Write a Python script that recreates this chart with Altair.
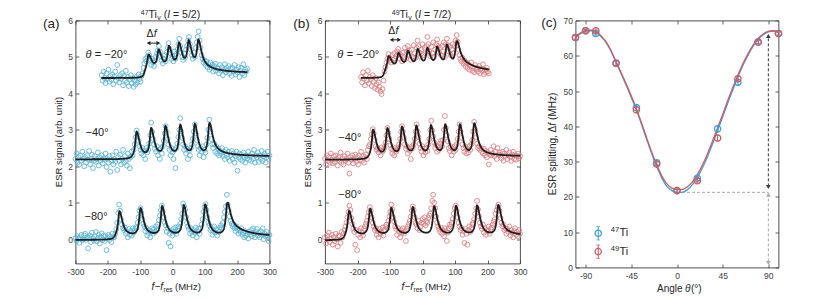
import numpy as np
import pandas as pd
import altair as alt

FONT = "Liberation Sans"
INK = "#262626"
AXC = "#3c3c3c"
LAB = "#404040"
BLUE_PT = "#58b3d7"
RED_PT = "#db7c81"
BLUE_LN = "#3d9fd4"
RED_LN = "#cf5b61"
FITC = "#1e1e1e"
STEP = 3.0  # MHz between successive sweep points

# ---------------- (a) 47Ti : ESR signal, one value every 3 MHz from the start frequency
a20_start = -219
a20_sig = [
    4.50, 4.35, 4.60, 4.42, 4.28, 4.55, 4.40, 4.65, 4.32, 4.48,
    4.38, 4.52, 4.25, 4.45, 4.60, 4.35, 4.78, 4.42, 4.30, 4.50,
    4.40, 4.55, 4.22, 4.48, 4.35, 4.62, 4.30, 4.45, 4.20, 4.38,
    4.50, 4.28, 4.42, 4.18, 4.35, 4.25, 4.45, 4.30, 4.52, 4.40,
    4.32, 4.48, 4.55, 4.70, 4.82, 4.95, 4.88, 5.00, 5.12, 5.05,
    4.92, 4.78, 4.95, 4.85, 4.75, 4.90, 5.00, 5.08, 5.18, 5.30,
    5.15, 5.02, 4.90, 4.82, 4.95, 5.05, 4.88, 5.12, 5.25, 5.38,
    5.22, 5.10, 4.95, 5.02, 4.88, 5.15, 4.95, 5.08, 5.20, 5.35,
    5.50, 5.30, 5.12, 5.00, 4.92, 5.10, 4.98, 5.20, 5.30, 5.45,
    5.55, 5.35, 5.20, 5.05, 4.95, 5.12, 5.00, 5.25, 5.40, 5.55,
    5.70, 5.45, 5.25, 5.05, 4.95, 4.85, 4.90, 4.78, 4.88, 4.72,
    4.80, 4.65, 4.85, 4.70, 4.78, 4.60, 4.75, 4.82, 4.62, 4.70,
    4.68, 4.55, 4.78, 4.62, 4.72, 4.50, 4.65, 4.80, 4.58, 4.70,
    4.62, 4.75, 4.55, 4.68, 4.48, 4.70, 4.60, 4.78, 4.52, 4.65,
    4.58, 4.72, 4.45, 4.62, 4.70, 4.55, 4.80, 4.50, 4.65, 4.60,
    4.68]
a40_start = -300
a40_sig = [
    2.20, 2.35, 2.10, 2.25, 2.05, 2.30, 2.15, 2.40, 2.20, 2.00,
    2.25, 2.10, 2.30, 2.18, 2.42, 2.05, 2.20, 2.32, 1.95, 2.15,
    2.28, 2.12, 2.20, 2.38, 2.02, 2.25, 2.15, 2.30, 2.08, 2.22,
    2.18, 2.35, 1.98, 2.20, 2.10, 2.28, 1.85, 2.15, 2.30, 2.05,
    2.20, 2.12, 2.40, 1.90, 2.25, 2.15, 2.32, 2.05, 2.20, 2.45,
    2.10, 2.28, 2.15, 2.02, 2.35, 2.20, 1.95, 2.25, 2.40, 2.30,
    2.45, 2.60, 2.80, 2.98, 2.85, 2.70, 2.55, 2.45, 2.35, 2.50,
    2.30, 2.42, 2.20, 2.50, 2.38, 2.45, 2.62, 2.85, 3.20, 2.95,
    2.75, 2.60, 2.48, 2.40, 2.55, 2.30, 2.45, 2.20, 2.50, 2.35,
    2.55, 2.70, 2.90, 3.10, 2.95, 2.75, 2.60, 2.45, 2.30, 2.50,
    2.38, 2.20, 2.45, 1.95, 2.50, 2.62, 2.80, 3.00, 3.32, 2.95,
    2.78, 2.60, 2.45, 2.55, 2.35, 2.48, 2.20, 2.42, 2.30, 2.50,
    2.60, 2.75, 2.95, 3.15, 2.90, 2.72, 2.55, 2.45, 2.30, 2.50,
    2.40, 2.55, 2.25, 2.45, 2.38, 2.60, 2.78, 3.00, 3.28, 2.95,
    2.75, 2.60, 2.50, 2.62, 2.40, 2.55, 2.35, 2.48, 2.30, 2.42,
    2.35, 2.50, 2.28, 2.40, 2.20, 2.45, 2.32, 2.25, 2.40, 2.15,
    2.30, 2.42, 2.20, 2.35, 2.10, 2.28, 2.40, 1.88, 2.25, 2.35,
    2.20, 2.32, 2.15, 2.38, 2.25, 2.10, 2.30, 2.22, 2.40, 2.18,
    2.28, 2.15, 2.35, 2.20, 2.45, 2.10, 2.30, 2.25, 2.38, 2.12,
    2.30, 2.20, 2.42, 2.15, 2.28, 2.35, 2.10, 2.25, 2.40, 2.20,
    2.30]
a80_start = -300
a80_sig = [
    0.03, -0.05, 0.08, 0.02, -0.10, 0.05, 0.12, -0.03, 0.00, 0.10,
    0.15, -0.02, 0.06, -0.25, 0.04, 0.10, -0.08, 0.18, 0.02, -0.04,
    0.08, 0.20, -0.06, 0.03, 0.12, -0.12, 0.05, 0.16, -0.02, 0.09,
    -0.05, 0.10, -0.30, 0.04, 0.12, -0.02, 0.07, -0.08, 0.15, 0.05,
    0.05, 0.15, 0.28, 0.45, 0.72, 0.95, 0.78, 0.55, 0.40, 0.30,
    0.25, 0.32, 0.15, 0.20, 0.05, 0.28, 0.12, 0.22, 0.10, 0.30,
    0.18, 0.25, 0.32, 0.30, 0.45, 0.60, 0.78, 0.85, 0.72, 0.55,
    0.42, 0.35, 0.22, 0.30, 0.10, 0.18, 0.25, 0.05, 0.20, 0.30,
    0.15, 0.28, 0.20, 0.35, 0.25, 0.40, 0.52, 0.65, 0.80, 0.92,
    0.75, 0.60, 0.45, 0.38, 0.20, 0.30, -0.10, 0.15, -0.20, 0.22,
    0.10, 0.28, 0.20, 0.32, 0.15, 0.25, 0.35, 0.30, 0.42, 0.55,
    0.70, 0.98, 0.90, 0.82, 0.60, 0.45, 0.35, 0.28, 0.15, 0.30,
    0.20, 0.10, 0.25, 0.18, 0.32, 0.05, 0.20, 0.28, 0.15, 0.30,
    0.40, 0.55, 0.75, 0.88, 0.96, 0.80, 0.60, 0.45, 0.38, 0.25,
    0.30, 0.12, 0.22, 0.35, 0.18, 0.28, 0.10, 0.25, 0.20, 0.32,
    0.38, 0.30, 0.45, 0.60, 0.75, 0.90, 1.22, 0.95, 0.78, 0.62,
    0.50, 0.42, 0.35, 0.40, 0.30, 0.22, 0.35, 0.28, 0.15, 0.25,
    0.20, 0.30, 0.12, 0.18, 0.05, 0.22, 0.10, 0.15, 0.02, 0.20,
    0.12, 0.25, 0.08, 0.30, 0.15, 0.05, 0.20, 0.28, 0.10, 0.18,
    0.05, 0.22, 0.12, 0.30, 0.00, 0.15, 0.08, 0.20, 0.10, -0.05,
    0.12]

# ---------------- (b) 49Ti
b20_start = -189
b20_sig = [
    4.45, 4.30, 4.58, 4.40, 4.22, 4.50, 4.35, 4.62, 4.28, 4.45,
    4.38, 4.20, 4.50, 4.32, 4.15, 4.42, 4.25, 4.10, 4.30, 4.18,
    4.05, 3.98, 4.12, 4.35, 4.60, 4.72, 4.85, 4.95, 5.08, 4.98,
    4.90, 4.85, 5.05, 4.92, 5.10, 4.95, 5.02, 5.15, 5.22, 5.10,
    4.95, 5.05, 4.88, 5.12, 5.00, 5.25, 4.95, 5.15, 5.30, 5.18,
    5.05, 4.92, 5.20, 5.00, 5.32, 5.10, 4.98, 5.25, 5.45, 5.30,
    5.12, 5.00, 5.20, 5.35, 5.05, 5.25, 5.10, 5.30, 5.55, 5.35,
    5.15, 5.02, 5.28, 5.10, 5.40, 5.00, 5.20, 5.35, 5.48, 5.30,
    5.12, 5.25, 5.05, 5.30, 5.15, 5.40, 5.00, 5.35, 5.50, 5.32,
    5.15, 5.28, 5.05, 5.20, 5.35, 5.10, 5.30, 5.45, 5.60, 5.42,
    5.20, 5.05, 4.95, 4.88, 4.98, 4.82, 4.90, 4.75, 4.85, 4.70,
    4.80, 4.65, 4.75, 4.85, 4.62, 4.72, 4.58, 4.78, 4.65, 4.70,
    4.60, 4.75, 4.55, 4.68, 4.62, 4.80, 4.52, 4.65, 4.58, 4.70,
    4.60, 4.55]
b40_start = -300
b40_sig = [
    2.20, 2.05, 2.30, 2.15, 2.25, 2.10, 2.35, 2.18, 2.08, 2.28,
    2.12, 2.30, 2.20, 2.02, 2.25, 2.15, 2.38, 2.10, 2.22, 2.05,
    2.28, 2.15, 2.20, 2.35, 2.10, 1.80, 2.25, 2.18, 2.30, 2.08,
    2.20, 2.32, 2.12, 2.25, 2.05, 2.30, 2.18, 2.40, 2.15, 2.28,
    2.10, 2.25, 2.32, 2.20, 2.45, 2.55, 2.60, 2.75, 2.88, 3.02,
    2.90, 2.72, 2.55, 2.45, 2.50, 2.38, 2.45, 2.30, 2.52, 2.40,
    2.45, 2.52, 2.65, 2.85, 3.05, 2.92, 2.75, 2.58, 2.48, 2.35,
    2.45, 2.30, 2.50, 2.40, 2.45, 2.52, 2.60, 2.75, 2.95, 3.10,
    2.95, 2.78, 2.60, 2.48, 2.55, 2.35, 2.50, 2.42, 2.20, 2.55,
    2.50, 2.60, 2.75, 2.95, 3.15, 2.95, 2.80, 2.62, 2.50, 2.40,
    2.55, 2.30, 2.48, 2.38, 2.50, 2.42, 2.60, 2.75, 3.00, 3.25,
    2.98, 2.82, 2.65, 2.50, 2.58, 2.40, 2.55, 2.45, 2.62, 2.70,
    2.55, 2.72, 3.00, 3.38, 3.05, 2.85, 2.68, 2.50, 2.42, 2.55,
    2.30, 2.48, 2.40, 2.55, 2.45, 2.60, 2.75, 2.95, 3.15, 2.95,
    2.78, 2.60, 2.50, 2.40, 2.55, 2.35, 2.48, 2.38, 2.55, 2.45,
    2.60, 2.72, 2.95, 3.22, 3.00, 2.80, 2.62, 2.50, 2.55, 2.45,
    2.50, 2.40, 2.35, 2.48, 2.30, 2.42, 2.25, 2.38, 2.05, 2.32,
    2.45, 2.30, 2.35, 2.55, 2.28, 2.40, 2.20, 2.50, 2.32, 2.38,
    2.30, 2.22, 2.40, 2.15, 2.35, 2.28, 2.45, 2.20, 2.30, 2.38,
    2.25, 2.15, 2.32, 2.40, 2.20, 2.30, 2.18, 2.28, 2.35, 2.22,
    2.28]
b80_start = -300
b80_sig = [
    0.05, -0.12, 0.10, -0.02, 0.18, -0.08, 0.02, 0.12, -0.15, 0.06,
    -0.05, 0.15, 0.00, -0.20, 0.10, 0.08, -0.10, 0.20, 0.05, 0.15,
    0.25, 0.35, 0.45, 0.60, 0.75, 0.92, 0.80, 0.58, 0.42, 0.30,
    0.20, -0.15, 0.25, -0.30, 0.12, 0.22, 0.05, 0.30, 0.18, 0.10,
    0.28, 0.35, 0.42, 0.50, 0.62, 0.75, 0.88, 0.78, 0.60, 0.45,
    0.35, 0.25, 0.30, 0.12, 0.22, 0.05, 0.28, 0.15, 0.20, 0.32,
    0.10, 0.25, 0.35, 0.40, 0.30, 0.50, 0.62, 0.75, 0.95, 0.82,
    0.60, 0.48, 0.35, 0.28, 0.12, 0.30, 0.20, 0.05, 0.25, 0.18,
    0.30, 0.15, 0.22, -0.05, 0.28, 0.35, 0.42, 0.50, 0.62, 0.78,
    0.90, 0.80, 0.60, 0.45, 0.40, 0.30, 0.50, 0.25, 0.35, 0.45,
    0.55, 0.42, 0.60, 0.38, 0.50, 0.45, 0.58, 0.65, 0.70, 0.85,
    1.05, 1.22, 1.00, 0.85, 0.62, 0.45, 0.35, 0.28, 0.20, 0.32,
    0.15, 0.25, 0.08, 0.30, 0.22, -0.05, 0.18, 0.30, 0.40, 0.35,
    0.45, 0.55, 0.70, 0.85, 0.92, 0.78, 0.60, 0.45, 0.35, 0.25,
    0.30, 0.12, 0.22, -0.10, 0.28, 0.15, -0.15, 0.25, 0.35, 0.20,
    0.30, 0.40, 0.45, 0.55, 0.70, 0.85, 1.05, 0.82, 0.62, 0.45,
    0.35, 0.28, 0.40, 0.18, 0.30, 0.12, 0.25, 0.22, 0.35, 0.15,
    0.28, 0.32, 0.40, 0.48, 0.55, 0.70, 0.80, 0.88, 0.95, 0.78,
    0.58, 0.45, 0.35, 0.40, 0.25, 0.30, 0.15, 0.28, 0.20, 0.35,
    0.10, 0.25, 0.18, 0.05, 0.22, 0.30, 0.12, 0.20, 0.08, 0.25,
    0.15]

# ---------------- fitted line shapes: peak centres (MHz), peak amplitudes,
# and [left level, right level, onset (MHz), plateau, extra tail, tail width (MHz)]
a20_peaks = [-74, -43, -11, 20, 50, 80]
a20_amps = [0.40, 0.49, 0.57, 0.64, 0.69, 0.71]
a20_base = [4.42, 4.56, -86, 0.09, 0.03, 55]
a40_peaks = [-111, -66, -22, 24, 69, 114]
a40_amps = [0.72, 0.78, 0.82, 0.85, 0.87, 0.89]
a40_base = [2.19, 2.27, -124, -0.05, 0.12, 65]
a80_peaks = [-164, -99, -32, 35, 101, 169]
a80_amps = [0.68, 0.75, 0.80, 0.82, 0.84, 0.86]
a80_base = [-0.02, 0.06, -177, 0.02, 0.20, 65]
b20_peaks = [-104, -74, -45, -15, 15, 45, 75, 105]
b20_amps = [0.36, 0.40, 0.44, 0.48, 0.50, 0.53, 0.58, 0.67]
b20_base = [4.42, 4.58, -117, 0.07, 0.15, 60]
b40_peaks = [-152, -108, -63, -19, 26, 70, 115, 159]
b40_amps = [0.77, 0.77, 0.80, 0.82, 0.83, 0.85, 0.85, 0.88]
b40_base = [2.18, 2.27, -165, -0.05, 0.08, 65]
b80_peaks = [-226, -161, -96, -30, 36, 103, 168, 233]
b80_amps = [0.69, 0.73, 0.75, 0.77, 0.79, 0.80, 0.81, 0.82]
b80_base = [-0.03, 0.08, -239, 0.0, 0.06, 60]

# ---------------- (c) splitting vs angle
c_angle = [-100, -90, -80, -60, -40, -20, 0, 20, 40, 60, 80, 100]
c_ti47 = [65.2, 67.1, 66.3, 57.9, 45.3, 29.7, 21.8, 25.3, 39.3, 52.5, 63.9, 66.3]
c_ti49 = [65.2, 67.1, 67.1, 57.9, 44.7, 29.3, 21.8, 24.6, 36.7, 53.5, 63.9, 66.3]
c_err47 = [0.5, 0.4, 0.5, 0.7, 0.8, 0.6, 0.5, 0.6, 0.8, 0.7, 0.5, 0.4]
c_err49 = [0.5, 0.4, 0.5, 0.7, 0.8, 0.6, 0.5, 0.6, 0.8, 0.7, 0.5, 0.4]
c_fit_angle = list(range(-100, 101, 5))
c_fit47 = [65.0, 66.3, 67.0, 67.1, 66.7, 65.5, 63.8, 61.3, 58.1, 54.9, 51.6, 48.2, 44.6, 40.6,
           36.4, 32.3, 28.6, 25.4, 23.0, 21.8, 21.3, 21.3, 22.0, 23.4, 25.5, 28.2, 31.4, 35.0,
           38.8, 42.7, 46.6, 50.4, 54.0, 57.3, 60.2, 62.7, 64.7, 66.0, 66.8, 67.0, 66.6]
c_fit49 = [65.2, 66.5, 67.2, 67.3, 66.9, 65.7, 64.0, 61.5, 58.3, 55.2, 52.0, 48.6, 45.0, 41.0,
           36.8, 32.8, 29.1, 26.0, 23.7, 22.5, 22.1, 22.1, 22.8, 24.2, 26.3, 29.0, 32.2, 35.8,
           39.6, 43.4, 47.3, 51.0, 54.5, 57.8, 60.6, 63.0, 64.9, 66.2, 66.9, 67.1, 66.7]
c_par_perp = [21.3, 66.5]   # splitting at 0 deg and at 90 deg (dashed guides)


def sweep(start, sig, name):
    x = start + STEP * np.arange(len(sig))
    return pd.DataFrame({"x": x, "y": sig, "trace": name})


def fit_curve(lo, hi, peaks, amps, base, name, wl=5.0, wr=11.0):
    b0, b1, xon, p, q, g = base
    x = np.arange(lo, hi + 0.25, 0.5)
    s = 1.0 / (1.0 + np.exp(-(x - xon) / 3.0))
    d = np.clip(x - peaks[-1], 0, None)
    t = g * g / (d * d + g * g)
    y = b0 + (b1 - b0) * s + p * s * t + q * (1 - np.exp(-d / 6.0)) * t
    for xi, a in zip(peaks, amps):
        w = np.where(x < xi, wl, wr)
        y = y + a * w * w / ((x - xi) ** 2 + w * w)
    return pd.DataFrame({"x": x, "y": y, "trace": name})


pts_a = pd.concat([sweep(a20_start, a20_sig, "m20"), sweep(a40_start, a40_sig, "m40"),
                   sweep(a80_start, a80_sig, "m80")])
pts_b = pd.concat([sweep(b20_start, b20_sig, "m20"), sweep(b40_start, b40_sig, "m40"),
                   sweep(b80_start, b80_sig, "m80")])
fit_a = pd.concat([fit_curve(-220, 232, a20_peaks, a20_amps, a20_base, "m20"),
                   fit_curve(-300, 300, a40_peaks, a40_amps, a40_base, "m40"),
                   fit_curve(-300, 300, a80_peaks, a80_amps, a80_base, "m80")])
fit_b = pd.concat([fit_curve(-190, 205, b20_peaks, b20_amps, b20_base, "m20"),
                   fit_curve(-300, 300, b40_peaks, b40_amps, b40_base, "m40"),
                   fit_curve(-300, 300, b80_peaks, b80_amps, b80_base, "m80")])

XT_AB = [-300, -200, -100, 0, 100, 200, 300]
YT_AB = [0, 1, 2, 3, 4, 5, 6]
XT_C = [-90, -45, 0, 45, 90]
YT_C = [0, 10, 20, 30, 40, 50, 60, 70]


def axis(orient, values, labels=True, pad=3):
    return alt.Axis(orient=orient, values=values, title=None, labels=labels,
                    labelExpr="'' + datum.value", offset=-3.5, tickSize=3.5,
                    tickColor=AXC, tickWidth=0.8, labelPadding=pad, labelFont=FONT,
                    labelFontSize=8.5, labelColor=LAB, domain=False, grid=False,
                    labelOverlap=False, labelFlush=False)


def px_text(s, x, y, size=9.5, italic=False, align="center", angle=0, dy=0):
    return alt.Chart(pd.DataFrame({"k": [0]})).mark_text(
        text=s, font=FONT, fontSize=size, fontStyle="italic" if italic else "normal",
        align=align, baseline="middle", angle=angle, color=INK, dy=dy
    ).encode(x=alt.value(x), y=alt.value(y))


def data_text(s, x, y, xs, ys, size=11, italic=False, align="left", dx=0, dy=0):
    return alt.Chart(pd.DataFrame({"x": [x], "y": [y]})).mark_text(
        text=s, font=FONT, fontSize=size, fontStyle="italic" if italic else "normal",
        align=align, baseline="middle", color=INK, dx=dx, dy=dy
    ).encode(x=alt.X("x:Q", scale=xs, axis=None), y=alt.Y("y:Q", scale=ys, axis=None))


def sym(shape, xv, yv, xs, ys, color, size=18):
    return alt.Chart(pd.DataFrame({"x": xv, "y": yv})).mark_point(
        shape=shape, filled=True, size=size, color=color, opacity=1, strokeWidth=0
    ).encode(x=alt.X("x:Q", scale=xs, axis=None), y=alt.Y("y:Q", scale=ys, axis=None))


TITLE_Y = -5.5


def title_parts(iso, spin, cx):
    b = cx - 21.9
    return [
        px_text(iso, b, TITLE_Y, size=7, align="right", dy=-2.5),
        px_text("Ti", b, TITLE_Y, size=10.5, align="left"),
        px_text("v", b + 8.75, TITLE_Y, size=7, align="left", dy=2.5),
        px_text("(", b + 15.15, TITLE_Y, size=10.5, align="left"),
        px_text("I", b + 18.65, TITLE_Y, size=10.5, italic=True, align="left"),
        px_text("= " + spin + ")", b + 24.45, TITLE_Y, size=10.5, align="left"),
    ]


def spectra_panel(pts, fit, color, W, H, tag, tag_x, iso, spin, title_cx,
                  th_pos, arrow):
    xs = alt.Scale(domain=[-300, 300], nice=False, zero=False)
    ys = alt.Scale(domain=[-0.667, 6], nice=False, zero=False)
    dots = alt.Chart(pts).mark_point(shape="circle", filled=False, size=23, strokeWidth=0.85,
                                     color=color, opacity=1).encode(
        x=alt.X("x:Q", scale=xs, axis=axis("bottom", XT_AB, pad=4)),
        y=alt.Y("y:Q", scale=ys, axis=axis("left", YT_AB, pad=3)))
    lines = alt.Chart(fit).mark_line(color=FITC, strokeWidth=1.8).encode(
        x=alt.X("x:Q", scale=xs, axis=axis("top", XT_AB, labels=False)),
        y=alt.Y("y:Q", scale=ys, axis=axis("right", YT_AB, labels=False)),
        detail="trace:N")
    (x20, y20), (x40, y40), (x80, y80) = th_pos
    ax1, ax2, ay, tx, ty = arrow
    rule = alt.Chart(pd.DataFrame({"x": [ax1 + 5], "x2": [ax2 - 5], "y": [ay]})).mark_rule(
        color=INK, strokeWidth=1).encode(
        x=alt.X("x:Q", scale=xs, axis=None), x2="x2:Q", y=alt.Y("y:Q", scale=ys, axis=None))
    layers = [
        dots, lines,
        data_text("θ", x20, y20, xs, ys, italic=True),
        data_text("= −20°", x20, y20, xs, ys, dx=9.3),
        data_text("−40°", x40, y40, xs, ys),
        data_text("−80°", x80, y80, xs, ys),
        rule,
        sym("triangle-left", [ax1 + 7], [ay], xs, ys, INK),
        sym("triangle-right", [ax2 - 7], [ay], xs, ys, INK),
        data_text("Δ", tx, ty, xs, ys, size=10.5, align="right"),
        data_text("f", tx, ty, xs, ys, size=10.5, italic=True, align="left", dx=0.3),
        px_text(tag, tag_x, 3, size=13.5, align="left"),
        *title_parts(iso, spin, title_cx),
        px_text("ESR signal (arb. unit)", -17, H / 2, size=9.5, angle=270),
        px_text("f−f", W / 2 - 9.5, H + 23, size=10, italic=True, align="right"),
        px_text("res", W / 2 - 9.0, H + 23, size=6.5, align="left", dy=3),
        px_text("(MHz)", W / 2 + 2.5, H + 23, size=9.5, align="left"),
    ]
    return alt.layer(*layers).resolve_axis(x="independent", y="independent").properties(
        width=W, height=H)


WA, WB, WC = 194, 195, 203
HAB, HC = 243, 247

panel_a = spectra_panel(pts_a, fit_a, BLUE_PT, WA, HAB, "(a)", -32.5, "47", "5/2", 95,
                        [(-269, 5.06), (-269, 2.91), (-272, 0.62)],
                        (-81, -37, 5.38, -59, 5.62))
panel_b = spectra_panel(pts_b, fit_b, RED_PT, WB, HAB, "(b)", -31.8, "49", "7/2", 96.5,
                        [(-262, 5.06), (-259, 2.77), (-259, 1.22)],
                        (-102, -65, 5.47, -84, 5.72))

# ---------------- panel (c)
xs_c = alt.Scale(domain=[-100, 100], nice=False, zero=False)
ys_c = alt.Scale(domain=[0, 70], nice=False, zero=False)
fitc = pd.DataFrame({"a": c_fit_angle, "ti47": c_fit47, "ti49": c_fit49})
ptc = pd.DataFrame({"a": c_angle, "ti47": c_ti47, "ti49": c_ti49,
                    "lo47": np.array(c_ti47) - np.array(c_err47),
                    "hi47": np.array(c_ti47) + np.array(c_err47),
                    "lo49": np.array(c_ti49) - np.array(c_err49),
                    "hi49": np.array(c_ti49) + np.array(c_err49)})


def c_line(col, color, first=False):
    return alt.Chart(fitc).mark_line(color=color, strokeWidth=1.3, interpolate="monotone").encode(
        x=alt.X("a:Q", scale=xs_c, axis=axis("top", XT_C, labels=False) if first else None),
        y=alt.Y(col + ":Q", scale=ys_c, axis=axis("right", YT_C, labels=False) if first else None))


def c_pts(col, color, first=False):
    return alt.Chart(ptc).mark_point(shape="circle", filled=False, size=40, strokeWidth=1.3,
                                     color=color, opacity=1).encode(
        x=alt.X("a:Q", scale=xs_c, axis=axis("bottom", XT_C, pad=4) if first else None),
        y=alt.Y(col + ":Q", scale=ys_c, axis=axis("left", YT_C, pad=3) if first else None))


def c_err(lo, hi, color):
    r = alt.Chart(ptc).mark_rule(color=color, strokeWidth=1).encode(
        x=alt.X("a:Q", scale=xs_c, axis=None), y=alt.Y(lo + ":Q", scale=ys_c, axis=None),
        y2=hi + ":Q")
    t1 = alt.Chart(ptc).mark_tick(color=color, orient="horizontal", size=4, thickness=1).encode(
        x=alt.X("a:Q", scale=xs_c, axis=None), y=alt.Y(lo + ":Q", scale=ys_c, axis=None))
    t2 = alt.Chart(ptc).mark_tick(color=color, orient="horizontal", size=4, thickness=1).encode(
        x=alt.X("a:Q", scale=xs_c, axis=None), y=alt.Y(hi + ":Q", scale=ys_c, axis=None))
    return [r, t1, t2]


def vrule(x, y1, y2, color):
    return alt.Chart(pd.DataFrame({"x": [x], "y": [y1], "y2": [y2]})).mark_rule(
        color=color, strokeWidth=1, strokeDash=[3, 2]).encode(
        x=alt.X("x:Q", scale=xs_c, axis=None), y=alt.Y("y:Q", scale=ys_c, axis=None), y2="y2:Q")


def hrule(x1, x2, y, color):
    return alt.Chart(pd.DataFrame({"x": [x1], "x2": [x2], "y": [y]})).mark_rule(
        color=color, strokeWidth=1, strokeDash=[3, 2]).encode(
        x=alt.X("x:Q", scale=xs_c, axis=None), x2="x2:Q", y=alt.Y("y:Q", scale=ys_c, axis=None))


par, perp = c_par_perp
DARK, GREY = "#3a3a3a", "#a9a9a9"
leg_x, leg_tx = -77.6, -57
leg = pd.DataFrame({"x": [leg_x, leg_x], "y": [9.7, 4.5], "lo": [7.8, 2.6], "hi": [11.6, 6.4]})
leg_layers = []
for i, colr in enumerate([BLUE_LN, RED_LN]):
    row = leg.iloc[[i]]
    leg_layers += [
        alt.Chart(row).mark_rule(color=colr, strokeWidth=1).encode(
            x=alt.X("x:Q", scale=xs_c, axis=None), y=alt.Y("lo:Q", scale=ys_c, axis=None), y2="hi:Q"),
        alt.Chart(row).mark_tick(color=colr, orient="horizontal", size=4, thickness=1).encode(
            x=alt.X("x:Q", scale=xs_c, axis=None), y=alt.Y("lo:Q", scale=ys_c, axis=None)),
        alt.Chart(row).mark_tick(color=colr, orient="horizontal", size=4, thickness=1).encode(
            x=alt.X("x:Q", scale=xs_c, axis=None), y=alt.Y("hi:Q", scale=ys_c, axis=None)),
        alt.Chart(row).mark_point(shape="circle", filled=False, size=40, strokeWidth=1.3,
                                  color=colr, opacity=1).encode(
            x=alt.X("x:Q", scale=xs_c, axis=None), y=alt.Y("y:Q", scale=ys_c, axis=None)),
    ]
for iso, yy in (("47", 9.7), ("49", 4.5)):
    leg_layers += [data_text(iso, leg_tx, yy, xs_c, ys_c, size=7.5, align="right", dy=-3),
                   data_text("Ti", leg_tx, yy, xs_c, ys_c, size=11, align="left", dx=0.3)]

cx = WC / 2
panel_c = alt.layer(
    c_line("ti47", BLUE_LN, first=True),
    c_line("ti49", RED_LN),
    hrule(0, 90, par, GREY),
    vrule(90, par - 0.3, 1.3, GREY),
    vrule(90, par + 1.7, perp - 0.7, DARK),
    sym("triangle-up", [90], [perp - 0.9], xs_c, ys_c, DARK, size=22),
    sym("triangle-down", [90], [par + 1.5], xs_c, ys_c, DARK, size=22),
    sym("triangle-up", [90], [par - 0.7], xs_c, ys_c, GREY, size=22),
    sym("triangle-down", [90], [1.3], xs_c, ys_c, GREY, size=22),
    *c_err("lo47", "hi47", BLUE_LN),
    c_pts("ti47", BLUE_LN, first=True),
    *c_err("lo49", "hi49", RED_LN),
    c_pts("ti49", RED_LN),
    *leg_layers,
    px_text("(c)", -34.3, 2.4, size=13.5, align="left"),
    px_text("Angle", cx + 5.6, HC + 21.5, size=10, align="right"),
    px_text("θ", cx + 8, HC + 21.5, size=10, italic=True, align="left"),
    px_text("(°)", cx + 14, HC + 21.5, size=10, align="left"),
    px_text("ESR splitting, Δ", -23, 105.2, size=10, angle=270, align="right"),
    px_text("f", -23, 105.2, size=10, italic=True, angle=270, align="left"),
    px_text("(MHz)", -23, 99.4, size=10, angle=270, align="left"),
).resolve_axis(x="independent", y="independent").properties(width=WC, height=HC)

chart = alt.hconcat(panel_a, panel_b, panel_c, spacing=55.5, bounds="flush").properties(
    padding={"left": 34.5, "top": -0.5, "right": 0, "bottom": 0}, background="white"
).configure_view(stroke=AXC, strokeWidth=0.9)

chart.save("out.html", embed_options={"renderer": "svg", "actions": False})
